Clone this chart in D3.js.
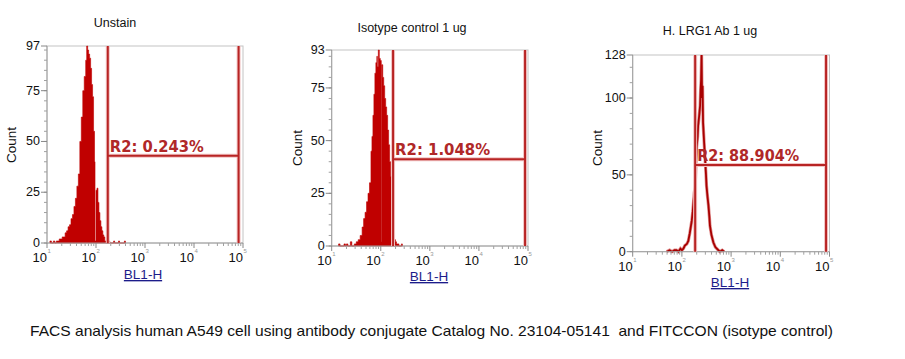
<!DOCTYPE html>
<html><head><meta charset="utf-8">
<script src="https://cdn.jsdelivr.net/npm/d3@7"></script>
<style>body{margin:0;background:#fff} svg{display:block}</style>
</head><body><svg id="c" width="905" height="359"></svg>
<script>
// ---------------- data ----------------
const titles = ["Unstain", "Isotype control 1 ug", "H. LRG1 Ab 1 ug"];
const yMaxes = [97, 93, 128];
const yMajorTicks = [[0, 25, 50, 75, 97], [0, 25, 50, 75, 93], [0, 50, 100, 128]];
const yMinorSteps = [5, 5, 10];
const xTickExponents = [1, 2, 3, 4, 5];
const xAxisLabel = "BL1-H";
const yAxisLabel = "Count";
const gateLabels = ["R2: 0.243%", "R2: 1.048%", "R2: 88.904%"];
const gateStart = [174, 178, 186];          // BL1-H intensity
const gateEnd = [81300, 87100, 85100];      // BL1-H intensity
const gateLevel = [42.9, 41.2, 56.4];       // count level of the gate bar
const caption = "FACS analysis human A549 cell using antibody conjugate Catalog No. 23104-05141  and FITCCON (isotype control)";

// histogram 1 (Unstain): log10(BL1-H) and counts
const unstainLog = [1.06,1.09,1.13,1.16,1.19,1.22,1.25,1.28,1.31,1.34,1.37,1.40,1.43,1.46,1.49,1.52,1.55,1.58,1.61,1.64,1.67,1.70,1.73,1.76,1.79,1.81,1.83,1.85,1.87,1.89,1.91,1.93,1.95,1.97,1.98,2.00,2.02,2.04,2.06,2.08,2.10,2.12,2.14,2.16,2.18,2.20,2.22,2.26,2.28,2.36,2.38,2.46,2.48,2.58,2.60];
const unstainCount = [1,0,1,0,1,1,2,2,3,3,5,6,8,9,12,14,18,22,28,34,50,62,75,82,90,97,95,93,91,86,78,72,55,40,1,26,27,20,15,11,8,6,4,3,1,1,0,1,0,1,0,1,0,1,0];

// histogram 2 (Isotype control)
const isotypeLog = [1.14,1.17,1.25,1.28,1.30,1.33,1.38,1.41,1.46,1.50,1.54,1.58,1.62,1.65,1.68,1.71,1.74,1.77,1.80,1.82,1.84,1.86,1.88,1.90,1.92,1.93,1.95,1.97,1.99,2.01,2.02,2.04,2.06,2.08,2.10,2.12,2.14,2.16,2.18,2.20,2.22,2.24,2.26,2.28,2.30,2.32,2.35,2.37,2.42,2.44];
const isotypeCount = [1,0,1,0,1,0,2,0,1,2,3,5,9,13,16,21,25,30,45,52,62,72,82,87,90,85,93,89,88,2,86,80,76,70,66,62,55,48,40,33,24,12,6,3,2,1,1,0,1,0];

// histogram 3 (H. LRG1 Ab)
const lrg1Log = [1.69,1.75,1.80,1.85,1.89,1.93,1.97,2.00,2.03,2.06,2.10,2.13,2.16,2.18,2.20,2.22,2.23,2.25,2.27,2.29,2.30,2.32,2.33,2.35,2.37,2.38,2.39,2.40,2.41,2.42,2.43,2.45,2.47,2.49,2.50,2.52,2.54,2.56,2.57,2.60,2.64,2.68,2.71,2.74,2.77,2.82,2.86];
const lrg1Count = [0,1,0,1,1,0,2,1,2,4,5,7,12,16,20,26,30,38,43,60,68,75,82,88,95,105,112,128,100,108,84,72,61,50,43,36,30,22,17,11,6,3,2,1,0,1,0];

const histLogs = [unstainLog, isotypeLog, lrg1Log];
const histCounts = [unstainCount, isotypeCount, lrg1Count];

// ---------------- layout ----------------
const panels = [
  {x0: 47, x1: 243, y0: 243, y1: 46, title: [115, 27], ylab: [16, 145], xlab: [143, 279]},
  {x0: 331.7, x1: 528, y0: 246, y1: 50, title: [412, 32], ylab: [302, 148], xlab: [429, 281]},
  {x0: 632.7, x1: 829.5, y0: 251.7, y1: 55, title: [710, 35], ylab: [602, 148], xlab: [730, 287]}
];
const labelWidths = [94, 95, 102];

const svg = d3.select("#c");
const red = "#c00000";
const gateCol = "#b82424";
const axisCol = "#a0a0a0";
const font = "'Liberation Sans', Arial, sans-serif";

panels.forEach((p, i) => {
  const g = svg.append("g");
  const xs = d3.scaleLog().domain([10, 100000]).range([p.x0, p.x1]);
  const ys = d3.scaleLinear().domain([0, yMaxes[i]]).range([p.y0, p.y1]);

  // frame
  g.append("rect").attr("x", p.x0).attr("y", p.y1)
    .attr("width", p.x1 - p.x0).attr("height", p.y0 - p.y1)
    .attr("fill", "none").attr("stroke", "#c4c4c4").attr("stroke-width", 1);

  // histogram
  const pts = histLogs[i].map((v, k) => ({x: Math.pow(10, v), c: histCounts[i][k]}));
  if (i < 2) {
    const area = d3.area().x(d => xs(d.x)).y0(ys(0)).y1(d => ys(d.c)).curve(d3.curveStepAfter);
    g.append("path").datum(pts).attr("d", area).attr("fill", red)
      .attr("stroke", red).attr("stroke-width", 0.6);
  } else {
    const line = d3.line().x(d => xs(d.x)).y(d => ys(d.c));
    g.append("path").datum(pts).attr("d", line).attr("fill", "none")
      .attr("stroke", "#e09090").attr("stroke-width", 3.2);
    g.append("path").datum(pts).attr("d", line).attr("fill", "none")
      .attr("stroke", "#a80000").attr("stroke-width", 1.8);
  }

  // axes (left and bottom)
  g.append("line").attr("x1", p.x0).attr("x2", p.x0).attr("y1", p.y1).attr("y2", p.y0)
    .attr("stroke", axisCol);
  g.append("line").attr("x1", p.x0).attr("x2", p.x1).attr("y1", p.y0).attr("y2", p.y0)
    .attr("stroke", axisCol);

  // y minor ticks
  const minors = d3.range(0, yMaxes[i] + 0.01, yMinorSteps[i]);
  g.selectAll(null).data(minors).join("line")
    .attr("x1", p.x0 - 3).attr("x2", p.x0).attr("y1", d => ys(d)).attr("y2", d => ys(d))
    .attr("stroke", axisCol);
  g.selectAll(null).data(yMajorTicks[i]).join("line")
    .attr("x1", p.x0 - 6).attr("x2", p.x0).attr("y1", d => ys(d)).attr("y2", d => ys(d))
    .attr("stroke", "#888");
  g.selectAll(null).data(yMajorTicks[i]).join("text")
    .attr("x", p.x0 - 7).attr("y", d => ys(d) + 4)
    .attr("text-anchor", "end").attr("font-family", font).attr("font-size", 12.5)
    .attr("fill", "#111").text(d => d);

  // x ticks (log)
  const xMinor = [];
  xTickExponents.slice(0, -1).forEach(e => { for (let m = 2; m <= 9; m++) xMinor.push(m * Math.pow(10, e)); });
  g.selectAll(null).data(xMinor).join("line")
    .attr("x1", d => xs(d)).attr("x2", d => xs(d)).attr("y1", p.y0).attr("y2", p.y0 + 3)
    .attr("stroke", axisCol);
  g.selectAll(null).data(xTickExponents).join("line")
    .attr("x1", d => xs(Math.pow(10, d))).attr("x2", d => xs(Math.pow(10, d)))
    .attr("y1", p.y0).attr("y2", p.y0 + 5).attr("stroke", "#888");
  g.selectAll(null).data(xTickExponents).join("text")
    .attr("x", d => xs(Math.pow(10, d))).attr("y", p.y0 + 19)
    .attr("text-anchor", "end").attr("font-family", font).attr("font-size", 13)
    .attr("fill", "#111").text("10");
  g.selectAll(null).data(xTickExponents).join("text")
    .attr("x", d => xs(Math.pow(10, d)) + 0.5).attr("y", p.y0 + 10)
    .attr("font-family", font).attr("font-size", 6).attr("fill", "#999").text(d => d);

  // gate
  const gx0 = xs(gateStart[i]), gx1 = xs(gateEnd[i]), gy = ys(gateLevel[i]);
  const gatePath = `M${gx0},${p.y1}V${p.y0}M${gx1},${p.y1}V${p.y0}M${gx0},${gy}H${gx1}`;
  g.append("path").attr("d", gatePath).attr("fill", "none")
    .attr("stroke", "#f2c4c4").attr("stroke-width", 4);
  g.append("path").attr("d", gatePath).attr("fill", "none")
    .attr("stroke", gateCol).attr("stroke-width", 2);
  g.append("text").attr("x", gx0 + 2).attr("y", gy - 4)
    .attr("font-family", "'DejaVu Sans', Verdana, sans-serif").attr("font-size", 15)
    .attr("font-weight", "bold")
    .attr("fill", "#b02828").attr("textLength", labelWidths[i]).attr("lengthAdjust", "spacingAndGlyphs")
    .text(gateLabels[i]);

  // titles & axis labels
  g.append("text").attr("x", p.title[0]).attr("y", p.title[1]).attr("text-anchor", "middle")
    .attr("font-family", font).attr("font-size", 12.5).attr("fill", "#111").text(titles[i]);
  g.append("text").attr("transform", `translate(${p.ylab[0]},${p.ylab[1]}) rotate(-90)`)
    .attr("text-anchor", "middle").attr("font-family", font).attr("font-size", 13.5)
    .attr("fill", "#111").text(yAxisLabel);
  g.append("text").attr("x", p.xlab[0]).attr("y", p.xlab[1]).attr("text-anchor", "middle")
    .attr("font-family", font).attr("font-size", 13.5).attr("fill", "#1c1c8a")
    .attr("text-decoration", "underline").text(xAxisLabel);
});

svg.append("text").attr("x", 30).attr("y", 336)
  .attr("font-family", font).attr("font-size", 14.5).attr("fill", "#111")
  .attr("textLength", 803).attr("lengthAdjust", "spacingAndGlyphs")
  .attr("xml:space", "preserve").style("white-space", "pre")
  .text(caption);
</script>
</body></html>
